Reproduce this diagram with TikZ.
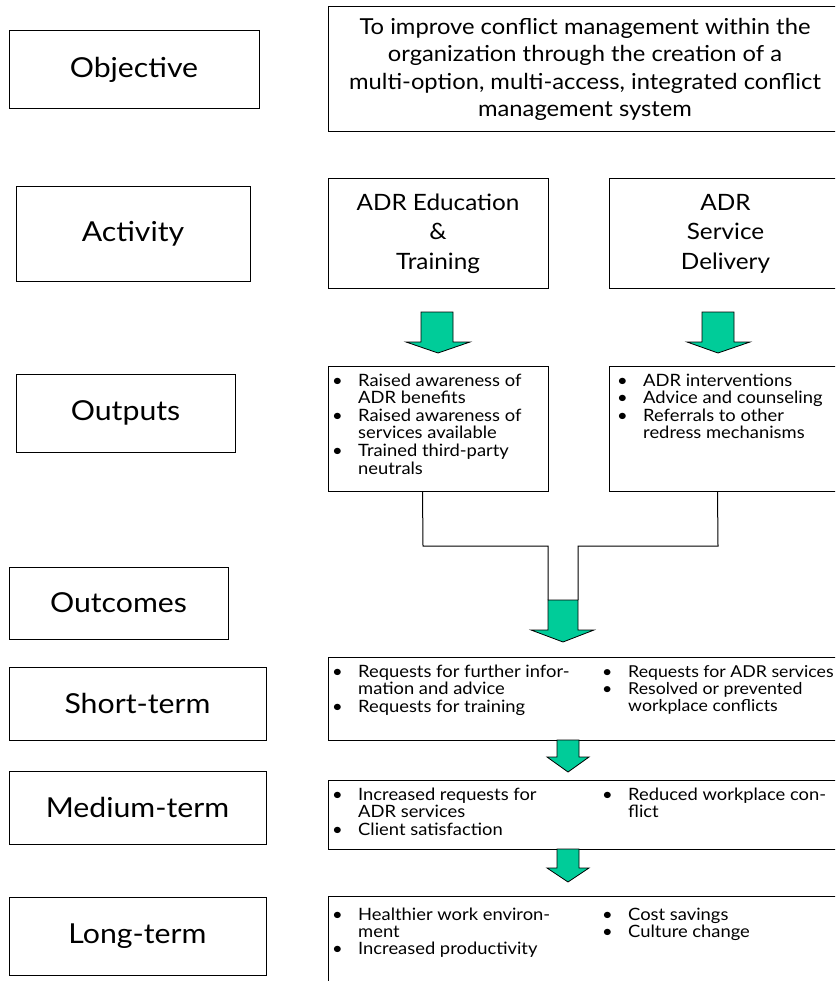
\documentclass[tikz,border=0pt]{standalone}
\usepackage{fontspec}
\setmainfont{Lato}[FakeStretch=1.08]
\newfontfamily\labelfamily{Lato}[FakeStretch=1.1]
\usetikzlibrary{calc}
\definecolor{arrowgreen}{RGB}{0,204,153}
\newcommand{\blist}[1]{\begin{tabular}[t]{@{}p{26pt}@{}l@{}}#1\end{tabular}}
\tikzset{
  box/.style={draw, line width=1pt, inner sep=0pt, align=center},
  labelfont/.style={font=\labelfamily\fontsize{27.5}{30}\selectfont},
  bigtext/.style={font=\fontsize{22}{27.5}\selectfont},
  midtext/.style={font=\fontsize{22.5}{29.5}\selectfont},
  listtext/.style={font=\fontsize{17}{17}\selectfont, inner sep=0pt, anchor=base west},
  garrow/.style={draw, line width=0.8pt, fill=arrowgreen, line join=miter},
  conn/.style={draw, line width=1pt}
}
\begin{document}
\begin{tikzpicture}[x=1pt,y=-1pt]
\useasboundingbox (0,0) rectangle (835,981);
\clip (0,0) rectangle (835,981);

% left labels
\node[box, labelfont, minimum width=250pt, minimum height=78pt] (lobj) at (134,70) {Objective};
\node[box, labelfont, minimum width=234pt, minimum height=94pt] (lact) at (133,234) {Activity};
\node[box, labelfont, minimum width=219pt, minimum height=78pt] (lout) at (125.5,413) {Outputs};
\node[box, labelfont, minimum width=219pt, minimum height=72pt] (loutc) at (118.5,603) {Outcomes};
\node[box, labelfont, minimum width=257pt, minimum height=73pt] (lshort) at (137.5,703.5) {Short-term};
\node[box, labelfont, minimum width=257pt, minimum height=73pt] (lmed) at (137.5,807.5) {Medium-term};
\node[box, labelfont, minimum width=257pt, minimum height=78pt] (llong) at (137.5,936) {Long-term};

% objective
\node[box, bigtext, minimum width=514pt, minimum height=125pt] (obj) at (585,69.5)
  {To improve conflict management within the\\organization through the creation of a\\multi-option, multi-access, integrated conflict\\management system};

% activities
\node[box, midtext, minimum width=220pt, minimum height=109pt] (acte) at (438,233.5) {ADR Education\\\&\\Training};
\node[box, midtext, minimum width=233pt, minimum height=109pt] (acts) at (725.5,233.5) {ADR\\Service\\Delivery};

% outputs
\node[box, minimum width=220pt, minimum height=125pt] (oute) at (438,428.5) {};
\node[box, minimum width=233pt, minimum height=125pt] (outs) at (725.5,428.5) {};
\node[listtext] (oute-t) at (332,386) {\blist{\textbullet & Raised awareness of\\ & ADR benefits\\ \textbullet & Raised awareness of\\ & services available\\ \textbullet & Trained third-party\\ & neutrals}};
\node[listtext] (outs-t) at (617,386) {\blist{\textbullet & ADR interventions\\ \textbullet & Advice and counseling\\ \textbullet & Referrals to other\\ & redress mechanisms}};

% outcomes
\node[box, minimum width=514pt, minimum height=83pt] (short) at (585,698.5) {};
\node[box, minimum width=514pt, minimum height=69pt] (med) at (585,814.5) {};
\node[box, minimum width=514pt, minimum height=104pt] (long) at (585,948) {};

\node[listtext] (short-a) at (332,677) {\blist{\textbullet & Requests for further infor-\\ & mation and advice\\ \textbullet & Requests for training}};
\node[listtext, font=\fontsize{16.4}{17}\selectfont] (short-b) at (602,677) {\blist{\textbullet & Requests for ADR services\\ \textbullet & Resolved or prevented\\ & workplace conflicts}};
\node[listtext] (med-a) at (332,800) {\blist{\textbullet & Increased requests for\\ & ADR services\\ \textbullet & Client satisfaction}};
\node[listtext] (med-b) at (602,800) {\blist{\textbullet & Reduced workplace con-\\ & flict}};
\node[listtext] (long-a) at (332,920) {\blist{\textbullet & Healthier work environ-\\ & ment\\ \textbullet & Increased productivity}};
\node[listtext] (long-b) at (602,920) {\blist{\textbullet & Cost savings\\ \textbullet & Culture change}};

% arrows activity -> outputs
\path[garrow] (421,312) -- (453,312) -- (453,342) -- (470,342) -- (438,353) -- (406,342) -- (421,342) -- cycle;
\path[garrow] (702,312) -- (734,312) -- (734,342) -- (750,342) -- (718,353) -- (687,342) -- (702,342) -- cycle;

% merge connectors
\coordinate (ml) at (548,600);
\coordinate (mr) at (578,600);
\draw[conn] ($(oute.south west)+(95,0)$) -- (423,546) -| (ml);
\draw[conn] ($(outs.south west)+(109,0)$) -- (718,546) -| (mr);
\path[garrow] (ml) -- (548,630) -- (531,630) -- (563,642) -- (594,630) -- (578,630) -- (mr) -- cycle;

% arrows between outcome levels
\path[garrow] (557,740) -- (579,740) -- (579,757) -- (589,757) -- (568,772) -- (547,757) -- (557,757) -- cycle;
\path[garrow] (557,849) -- (579,849) -- (579,868) -- (589,868) -- (568,882) -- (547,868) -- (557,868) -- cycle;
\end{tikzpicture}
\end{document}
